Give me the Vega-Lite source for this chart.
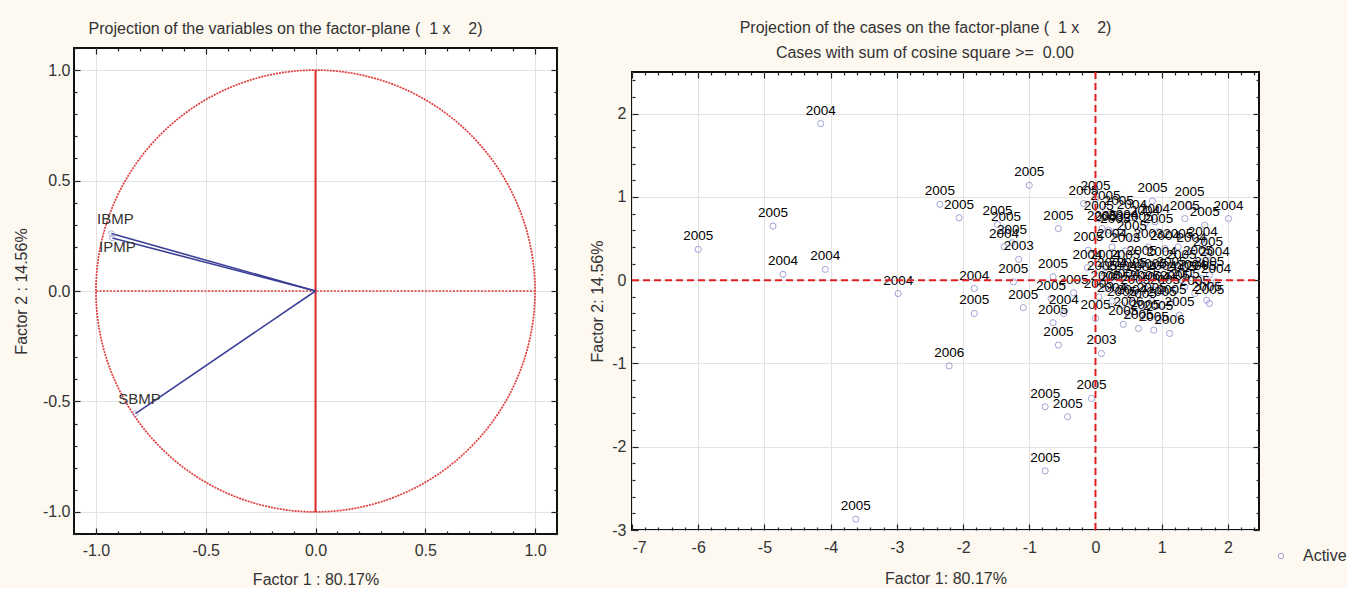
{
  "$schema": "https://vega.github.io/schema/vega-lite/v6.json",
  "background": "#fdf9f1",
  "padding": {"left": 12, "top": 19, "right": 0, "bottom": 0},
  "spacing": 29,
  "bounds": "full",
  "config": {
    "font": "Liberation Sans",
    "view": {"stroke": "#111111", "strokeWidth": 2, "fill": "white"},
    "axis": {
      "labelFont": "Liberation Sans", "labelFontSize": 16, "labelColor": "#333333",
      "titleFont": "Liberation Sans", "titleFontSize": 16, "titleFontWeight": "normal", "titleColor": "#333333",
      "domain": false, "tickColor": "#222222", "tickWidth": 1.2, "gridColor": "#e2e2e2", "gridWidth": 1,
      "labelExpr": "replace(datum.label, '\u2212', '-')"
    },
    "title": {
      "font": "Liberation Sans", "fontSize": 16, "fontWeight": "normal", "color": "#333333",
      "frame": "bounds", "anchor": "middle", "offset": 10
    },
    "legend": {"labelFont": "Liberation Sans", "labelFontSize": 16, "labelColor": "#333333"}
  },
  "datasets": {
    "circle": [
      {"i": 0, "cx": 1, "cy": 0}, {"i": 1, "cx": 0.9848, "cy": 0.1736}, {"i": 2, "cx": 0.9397, "cy": 0.342},
      {"i": 3, "cx": 0.866, "cy": 0.5}, {"i": 4, "cx": 0.766, "cy": 0.6428}, {"i": 5, "cx": 0.6428, "cy": 0.766},
      {"i": 6, "cx": 0.5, "cy": 0.866}, {"i": 7, "cx": 0.342, "cy": 0.9397}, {"i": 8, "cx": 0.1736, "cy": 0.9848},
      {"i": 9, "cx": 0, "cy": 1}, {"i": 10, "cx": -0.1736, "cy": 0.9848}, {"i": 11, "cx": -0.342, "cy": 0.9397},
      {"i": 12, "cx": -0.5, "cy": 0.866}, {"i": 13, "cx": -0.6428, "cy": 0.766}, {"i": 14, "cx": -0.766, "cy": 0.6428},
      {"i": 15, "cx": -0.866, "cy": 0.5}, {"i": 16, "cx": -0.9397, "cy": 0.342}, {"i": 17, "cx": -0.9848, "cy": 0.1736},
      {"i": 18, "cx": -1, "cy": 0}, {"i": 19, "cx": -0.9848, "cy": -0.1736}, {"i": 20, "cx": -0.9397, "cy": -0.342},
      {"i": 21, "cx": -0.866, "cy": -0.5}, {"i": 22, "cx": -0.766, "cy": -0.6428}, {"i": 23, "cx": -0.6428, "cy": -0.766},
      {"i": 24, "cx": -0.5, "cy": -0.866}, {"i": 25, "cx": -0.342, "cy": -0.9397}, {"i": 26, "cx": -0.1736, "cy": -0.9848},
      {"i": 27, "cx": 0, "cy": -1}, {"i": 28, "cx": 0.1736, "cy": -0.9848}, {"i": 29, "cx": 0.342, "cy": -0.9397},
      {"i": 30, "cx": 0.5, "cy": -0.866}, {"i": 31, "cx": 0.6428, "cy": -0.766}, {"i": 32, "cx": 0.766, "cy": -0.6428},
      {"i": 33, "cx": 0.866, "cy": -0.5}, {"i": 34, "cx": 0.9397, "cy": -0.342}, {"i": 35, "cx": 0.9848, "cy": -0.1736}
    ],
    "variables": [
      {"name": "IBMP", "f1": -0.93, "f2": 0.26},
      {"name": "IPMP", "f1": -0.925, "f2": 0.24},
      {"name": "SBMP", "f1": -0.82, "f2": -0.555}
    ],
    "one": [{"ref": 0}],
    "cases": [
      {"f1": -6.0, "f2": 0.37, "year": "2005", "set": "Active"},
      {"f1": -4.87, "f2": 0.65, "year": "2005", "set": "Active"},
      {"f1": -4.72, "f2": 0.07, "year": "2004", "set": "Active"},
      {"f1": -4.08, "f2": 0.13, "year": "2004", "set": "Active"},
      {"f1": -4.15, "f2": 1.88, "year": "2004", "set": "Active"},
      {"f1": -2.98, "f2": -0.16, "year": "2004", "set": "Active"},
      {"f1": -2.21, "f2": -1.03, "year": "2006", "set": "Active"},
      {"f1": -3.62, "f2": -2.87, "year": "2005", "set": "Active"},
      {"f1": -0.76, "f2": -2.29, "year": "2005", "set": "Active"},
      {"f1": -0.76, "f2": -1.52, "year": "2005", "set": "Active"},
      {"f1": -0.42, "f2": -1.64, "year": "2005", "set": "Active"},
      {"f1": -0.06, "f2": -1.42, "year": "2005", "set": "Active"},
      {"f1": 0.09, "f2": -0.88, "year": "2003", "set": "Active"},
      {"f1": -0.56, "f2": -0.78, "year": "2005", "set": "Active"},
      {"f1": -1.0, "f2": 1.14, "year": "2005", "set": "Active"},
      {"f1": -2.35, "f2": 0.91, "year": "2005", "set": "Active"},
      {"f1": -2.06, "f2": 0.75, "year": "2005", "set": "Active"},
      {"f1": -1.48, "f2": 0.67, "year": "2005", "set": "Active"},
      {"f1": -1.35, "f2": 0.6, "year": "2005", "set": "Active"},
      {"f1": -0.56, "f2": 0.62, "year": "2005", "set": "Active"},
      {"f1": -1.38, "f2": 0.4, "year": "2004", "set": "Active"},
      {"f1": -1.26, "f2": 0.45, "year": "2005", "set": "Active"},
      {"f1": -1.16, "f2": 0.25, "year": "2003", "set": "Active"},
      {"f1": -1.24, "f2": -0.02, "year": "2005", "set": "Active"},
      {"f1": -1.83, "f2": -0.1, "year": "2004", "set": "Active"},
      {"f1": -1.83, "f2": -0.4, "year": "2005", "set": "Active"},
      {"f1": -1.09, "f2": -0.33, "year": "2005", "set": "Active"},
      {"f1": -0.64, "f2": 0.04, "year": "2005", "set": "Active"},
      {"f1": -0.64, "f2": -0.51, "year": "2005", "set": "Active"},
      {"f1": -0.48, "f2": -0.4, "year": "2004", "set": "Active"},
      {"f1": -0.67, "f2": -0.22, "year": "2005", "set": "Active"},
      {"f1": -0.33, "f2": -0.15, "year": "2005", "set": "Active"},
      {"f1": -0.12, "f2": 0.15, "year": "2004", "set": "Active"},
      {"f1": -0.11, "f2": 0.36, "year": "2005", "set": "Active"},
      {"f1": -0.18, "f2": 0.92, "year": "2005", "set": "Active"},
      {"f1": 0.0, "f2": 0.98, "year": "2005", "set": "Active"},
      {"f1": 0.05, "f2": 0.74, "year": "2005", "set": "Active"},
      {"f1": 0.0, "f2": -0.46, "year": "2005", "set": "Active"},
      {"f1": 0.1, "f2": 0.62, "year": "2005", "set": "Active"},
      {"f1": 0.2, "f2": 0.6, "year": "2003", "set": "Active"},
      {"f1": 0.3, "f2": 0.58, "year": "2005", "set": "Active"},
      {"f1": 0.42, "f2": 0.63, "year": "2004", "set": "Active"},
      {"f1": 0.15, "f2": 0.85, "year": "2005", "set": "Active"},
      {"f1": 0.35, "f2": 0.8, "year": "2005", "set": "Active"},
      {"f1": 0.55, "f2": 0.75, "year": "2004", "set": "Active"},
      {"f1": 0.65, "f2": 0.6, "year": "2005", "set": "Active"},
      {"f1": 0.75, "f2": 0.68, "year": "2004", "set": "Active"},
      {"f1": 0.9, "f2": 0.7, "year": "2004", "set": "Active"},
      {"f1": 0.86, "f2": 0.95, "year": "2005", "set": "Active"},
      {"f1": 1.42, "f2": 0.9, "year": "2005", "set": "Active"},
      {"f1": 1.35, "f2": 0.74, "year": "2005", "set": "Active"},
      {"f1": 1.65, "f2": 0.66, "year": "2005", "set": "Active"},
      {"f1": 2.01, "f2": 0.74, "year": "2004", "set": "Active"},
      {"f1": 0.95, "f2": 0.58, "year": "2005", "set": "Active"},
      {"f1": 0.55, "f2": 0.5, "year": "2005", "set": "Active"},
      {"f1": 0.25, "f2": 0.4, "year": "2004", "set": "Active"},
      {"f1": 0.45, "f2": 0.35, "year": "2003", "set": "Active"},
      {"f1": 0.8, "f2": 0.4, "year": "2003", "set": "Active"},
      {"f1": 1.05, "f2": 0.38, "year": "2004", "set": "Active"},
      {"f1": 1.25, "f2": 0.4, "year": "2005", "set": "Active"},
      {"f1": 1.45, "f2": 0.35, "year": "2004", "set": "Active"},
      {"f1": 1.62, "f2": 0.42, "year": "2004", "set": "Active"},
      {"f1": 1.7, "f2": 0.3, "year": "2005", "set": "Active"},
      {"f1": 1.8, "f2": 0.18, "year": "2004", "set": "Active"},
      {"f1": 1.55, "f2": 0.2, "year": "2005", "set": "Active"},
      {"f1": 1.3, "f2": 0.15, "year": "2005", "set": "Active"},
      {"f1": 1.0, "f2": 0.18, "year": "2004", "set": "Active"},
      {"f1": 0.7, "f2": 0.2, "year": "2005", "set": "Active"},
      {"f1": 0.45, "f2": 0.15, "year": "2005", "set": "Active"},
      {"f1": 0.15, "f2": 0.15, "year": "2004", "set": "Active"},
      {"f1": 0.1, "f2": 0.02, "year": "2005", "set": "Active"},
      {"f1": 0.25, "f2": 0.05, "year": "2004", "set": "Active"},
      {"f1": 0.4, "f2": 0.02, "year": "2004", "set": "Active"},
      {"f1": 0.55, "f2": 0.05, "year": "2005", "set": "Active"},
      {"f1": 0.7, "f2": 0.0, "year": "2004", "set": "Active"},
      {"f1": 0.85, "f2": 0.04, "year": "2005", "set": "Active"},
      {"f1": 1.0, "f2": 0.02, "year": "2004", "set": "Active"},
      {"f1": 1.15, "f2": 0.06, "year": "2005", "set": "Active"},
      {"f1": 1.3, "f2": 0.0, "year": "2005", "set": "Active"},
      {"f1": 1.45, "f2": 0.03, "year": "2004", "set": "Active"},
      {"f1": 1.6, "f2": 0.02, "year": "2005", "set": "Active"},
      {"f1": 1.72, "f2": 0.06, "year": "2005", "set": "Active"},
      {"f1": 1.82, "f2": -0.02, "year": "2004", "set": "Active"},
      {"f1": 0.15, "f2": -0.1, "year": "2005", "set": "Active"},
      {"f1": 0.3, "f2": -0.12, "year": "2005", "set": "Active"},
      {"f1": 0.45, "f2": -0.08, "year": "2004", "set": "Active"},
      {"f1": 0.6, "f2": -0.15, "year": "2005", "set": "Active"},
      {"f1": 0.75, "f2": -0.1, "year": "2005", "set": "Active"},
      {"f1": 0.9, "f2": -0.12, "year": "2004", "set": "Active"},
      {"f1": 1.05, "f2": -0.15, "year": "2005", "set": "Active"},
      {"f1": 1.2, "f2": -0.1, "year": "2005", "set": "Active"},
      {"f1": 1.35, "f2": -0.08, "year": "2005", "set": "Active"},
      {"f1": 1.5, "f2": -0.16, "year": "2005", "set": "Active"},
      {"f1": 0.05, "f2": -0.2, "year": "2005", "set": "Active"},
      {"f1": 0.25, "f2": -0.25, "year": "2004", "set": "Active"},
      {"f1": 0.4, "f2": -0.3, "year": "2005", "set": "Active"},
      {"f1": 0.55, "f2": -0.27, "year": "2004", "set": "Active"},
      {"f1": 0.7, "f2": -0.32, "year": "2005", "set": "Active"},
      {"f1": 0.85, "f2": -0.25, "year": "2005", "set": "Active"},
      {"f1": 1.0, "f2": -0.3, "year": "2005", "set": "Active"},
      {"f1": 1.15, "f2": -0.27, "year": "2005", "set": "Active"},
      {"f1": 0.5, "f2": -0.42, "year": "2006", "set": "Active"},
      {"f1": 0.75, "f2": -0.45, "year": "2005", "set": "Active"},
      {"f1": 0.95, "f2": -0.47, "year": "2005", "set": "Active"},
      {"f1": 0.42, "f2": -0.53, "year": "2005", "set": "Active"},
      {"f1": 0.65, "f2": -0.58, "year": "2005", "set": "Active"},
      {"f1": 0.88, "f2": -0.6, "year": "2005", "set": "Active"},
      {"f1": 1.12, "f2": -0.64, "year": "2006", "set": "Active"},
      {"f1": 1.27, "f2": -0.42, "year": "2005", "set": "Active"},
      {"f1": 1.68, "f2": -0.24, "year": "2005", "set": "Active"},
      {"f1": 1.72, "f2": -0.28, "year": "2005", "set": "Active"}
    ]
  },
  "hconcat": [
    {
      "width": 483,
      "height": 486,
      "title": {"text": "Projection of the variables on the factor-plane (\u00a0 1 x\u00a0\u00a0\u00a0 2)"},
      "resolve": {"axis": {"x": "independent", "y": "independent"}},
      "layer": [
        {
          "data": {"name": "circle"},
          "mark": {"type": "line", "interpolate": "cardinal-closed", "stroke": "#e03c3c", "strokeWidth": 1.7, "strokeDash": [2, 1]},
          "encoding": {
            "x": {"field": "cx", "type": "quantitative", "scale": {"domain": [-1.1, 1.1], "nice": false, "zero": false},
                  "axis": {"orient": "bottom", "title": "Factor 1 : 80.17%", "values": [-1, -0.5, 0, 0.5, 1], "format": ".1f", "tickSize": -6, "labelPadding": 14, "titlePadding": 13, "grid": true}},
            "y": {"field": "cy", "type": "quantitative", "scale": {"domain": [-1.1, 1.1], "nice": false, "zero": false},
                  "axis": {"orient": "left", "title": "Factor 2 : 14.56%", "values": [-1, -0.5, 0, 0.5, 1], "format": ".1f", "tickSize": -6, "labelPadding": 10, "titlePadding": 13, "grid": true}},
            "order": {"field": "i", "type": "quantitative"}
          }
        },
        {
          "data": {"name": "one"},
          "mark": {"type": "rule", "stroke": "#e02a2a", "strokeWidth": 2},
          "encoding": {
            "x": {"datum": 0, "type": "quantitative", "axis": {"orient": "top", "title": null, "values": [-1, -0.5, 0, 0.5, 1], "labels": false, "tickSize": -6, "grid": false}},
            "y": {"datum": -1, "type": "quantitative", "axis": {"orient": "right", "title": null, "values": [-1, -0.5, 0, 0.5, 1], "labels": false, "tickSize": -6, "grid": false}},
            "y2": {"datum": 1}
          }
        },
        {
          "data": {"name": "one"},
          "mark": {"type": "rule", "stroke": "#e03c3c", "strokeWidth": 1.7, "strokeDash": [2, 1.5]},
          "encoding": {
            "x": {"datum": -1, "type": "quantitative", "axis": {"orient": "bottom", "title": null, "values": [-1.1, -0.9, -0.8, -0.7, -0.6, -0.4, -0.3, -0.2, -0.1, 0.1, 0.2, 0.3, 0.4, 0.6, 0.7, 0.8, 0.9, 1.1], "labels": false, "tickSize": -3, "grid": false}},
            "x2": {"datum": 1},
            "y": {"datum": 0, "type": "quantitative", "axis": {"orient": "left", "title": null, "values": [-1.1, -0.9, -0.8, -0.7, -0.6, -0.4, -0.3, -0.2, -0.1, 0.1, 0.2, 0.3, 0.4, 0.6, 0.7, 0.8, 0.9, 1.1], "labels": false, "tickSize": -3, "grid": false}}
          }
        },
        {
          "data": {"name": "variables"},
          "mark": {"type": "rule", "stroke": "#3b3f96", "strokeWidth": 1.6},
          "encoding": {
            "x": {"field": "f1", "type": "quantitative", "axis": {"orient": "top", "title": null, "values": [-1.1, -0.9, -0.8, -0.7, -0.6, -0.4, -0.3, -0.2, -0.1, 0.1, 0.2, 0.3, 0.4, 0.6, 0.7, 0.8, 0.9, 1.1], "labels": false, "tickSize": -3, "grid": false}},
            "y": {"field": "f2", "type": "quantitative", "axis": {"orient": "right", "title": null, "values": [-1.1, -0.9, -0.8, -0.7, -0.6, -0.4, -0.3, -0.2, -0.1, 0.1, 0.2, 0.3, 0.4, 0.6, 0.7, 0.8, 0.9, 1.1], "labels": false, "tickSize": -3, "grid": false}},
            "x2": {"datum": 0},
            "y2": {"datum": 0}
          }
        },
        {
          "data": {"name": "variables"},
          "mark": {"type": "point", "shape": "circle", "filled": false, "size": 30, "stroke": "#9090cc", "strokeWidth": 1},
          "encoding": {
            "x": {"field": "f1", "type": "quantitative", "axis": null},
            "y": {"field": "f2", "type": "quantitative", "axis": null}
          }
        },
        {
          "data": {"name": "variables"},
          "transform": [{"filter": "datum.name !== 'IPMP'"}],
          "mark": {"type": "text", "fontSize": 15, "fill": "#333333", "baseline": "middle", "dy": -15, "dx": 4},
          "encoding": {
            "x": {"field": "f1", "type": "quantitative", "axis": null},
            "y": {"field": "f2", "type": "quantitative", "axis": null},
            "text": {"field": "name"}
          }
        },
        {
          "data": {"name": "variables"},
          "transform": [{"filter": "datum.name === 'IPMP'"}],
          "mark": {"type": "text", "fontSize": 15, "fill": "#333333", "baseline": "middle", "dy": 9, "dx": 5},
          "encoding": {
            "x": {"field": "f1", "type": "quantitative", "axis": null},
            "y": {"field": "f2", "type": "quantitative", "axis": null},
            "text": {"field": "name"}
          }
        }
      ]
    },
    {
      "spacing": -8,
      "vconcat": [
        {
          "width": 627,
          "height": 1,
          "view": {"stroke": null, "fill": null},
          "title": {"text": "Projection of the cases on the factor-plane (\u00a0 1 x\u00a0\u00a0\u00a0 2)", "dx": -20},
          "data": {"name": "one"},
          "mark": {"type": "point", "opacity": 0},
          "encoding": {}
        },
        {
          "width": 627,
          "height": 458,
          "title": {"text": "Cases with sum of cosine square >=\u00a0 0.00", "offset": 10},
          "resolve": {"axis": {"x": "independent", "y": "independent"}},
          "layer": [
            {
              "data": {"name": "cases"},
              "mark": {"type": "point", "shape": "circle", "filled": false, "size": 38, "strokeWidth": 1},
              "encoding": {
                "x": {"field": "f1", "type": "quantitative", "scale": {"domain": [-7, 2.47], "nice": false, "zero": false},
                      "axis": {"orient": "bottom", "title": "Factor 1: 80.17%", "values": [-7, -6, -5, -4, -3, -2, -1, 0, 1, 2], "format": "d", "tickSize": -6, "labelPadding": 15, "titlePadding": 15, "grid": true}},
                "y": {"field": "f2", "type": "quantitative", "scale": {"domain": [-3, 2.5], "nice": false, "zero": false},
                      "axis": {"orient": "left", "title": "Factor 2: 14.56%", "values": [-3, -2, -1, 0, 1, 2], "format": "d", "tickSize": -6, "labelPadding": 12, "titlePadding": 6, "grid": true}},
                "color": {"field": "set", "type": "nominal", "scale": {"range": ["#7b7bc4"]},
                          "legend": {"title": null, "orient": "none", "legendX": 1199, "legendY": 500, "symbolType": "circle", "symbolSize": 30, "symbolStrokeWidth": 1, "labelOffset": 14}}
              }
            },
            {
              "data": {"name": "cases"},
              "mark": {"type": "text", "fontSize": 13.5, "fill": "#000000", "baseline": "middle", "dy": -13},
              "encoding": {
                "x": {"field": "f1", "type": "quantitative", "axis": {"orient": "top", "title": null, "values": [-7, -6, -5, -4, -3, -2, -1, 0, 1, 2], "labels": false, "tickSize": -6, "grid": false}},
                "y": {"field": "f2", "type": "quantitative", "axis": {"orient": "right", "title": null, "values": [-3, -2, -1, 0, 1, 2], "labels": false, "tickSize": -6, "grid": false}},
                "text": {"field": "year"}
              }
            },
            {
              "data": {"name": "one"},
              "mark": {"type": "rule", "stroke": "#e02020", "strokeWidth": 2, "strokeDash": [7, 4]},
              "encoding": {
                "x": {"datum": 0, "type": "quantitative", "axis": {"orient": "bottom", "title": null, "values": [-6.8, -6.6, -6.4, -6.2, -5.8, -5.6, -5.4, -5.2, -4.8, -4.6, -4.4, -4.2, -3.8, -3.6, -3.4, -3.2, -2.8, -2.6, -2.4, -2.2, -1.8, -1.6, -1.4, -1.2, -0.8, -0.6, -0.4, -0.2, 0.2, 0.4, 0.6, 0.8, 1.2, 1.4, 1.6, 1.8, 2.2, 2.4], "labels": false, "tickSize": -3, "grid": false}},
                "y": {"datum": -3, "type": "quantitative", "axis": {"orient": "right", "title": null, "values": [-2.8, -2.6, -2.4, -2.2, -1.8, -1.6, -1.4, -1.2, -0.8, -0.6, -0.4, -0.2, 0.2, 0.4, 0.6, 0.8, 1.2, 1.4, 1.6, 1.8, 2.2, 2.4], "labels": false, "tickSize": -3, "grid": false}},
                "y2": {"datum": 2.5}
              }
            },
            {
              "data": {"name": "one"},
              "mark": {"type": "rule", "stroke": "#e02020", "strokeWidth": 2, "strokeDash": [7, 4]},
              "encoding": {
                "y": {"datum": 0, "type": "quantitative", "axis": {"orient": "left", "title": null, "values": [-2.8, -2.6, -2.4, -2.2, -1.8, -1.6, -1.4, -1.2, -0.8, -0.6, -0.4, -0.2, 0.2, 0.4, 0.6, 0.8, 1.2, 1.4, 1.6, 1.8, 2.2, 2.4], "labels": false, "tickSize": -3, "grid": false}},
                "x": {"datum": -7, "type": "quantitative", "axis": {"orient": "top", "title": null, "values": [-6.8, -6.6, -6.4, -6.2, -5.8, -5.6, -5.4, -5.2, -4.8, -4.6, -4.4, -4.2, -3.8, -3.6, -3.4, -3.2, -2.8, -2.6, -2.4, -2.2, -1.8, -1.6, -1.4, -1.2, -0.8, -0.6, -0.4, -0.2, 0.2, 0.4, 0.6, 0.8, 1.2, 1.4, 1.6, 1.8, 2.2, 2.4], "labels": false, "tickSize": -3, "grid": false}},
                "x2": {"datum": 2.47}
              }
            }
          ]
        }
      ]
    }
  ]
}
